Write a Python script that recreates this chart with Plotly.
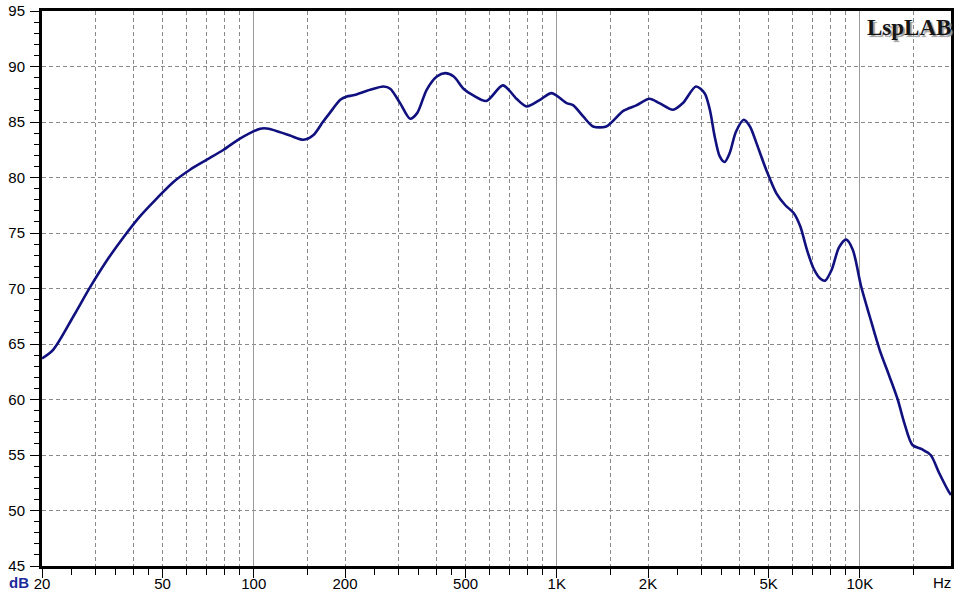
import plotly.graph_objects as go
import math

# ---- data ----
freq_hz = [20, 21.8, 25.4, 28.8, 32.7, 37.1, 42.1, 47.8, 54.3, 61.6, 70, 79.5, 90,
           105, 112, 131, 146, 157, 169, 178, 193, 203, 213, 242, 268, 282, 304,
           328, 346, 372, 402, 428, 457, 492, 530, 586, 664, 736, 795, 880, 962,
           1078, 1134, 1222, 1317, 1456, 1658, 1830, 2023, 2180, 2420, 2606, 2880,
           3075, 3200, 3320, 3450, 3580, 3720, 3900, 4140, 4340, 4560, 4910, 5300,
           5680, 6050, 6360, 6690, 7040, 7400, 7680, 8080, 8540, 9020, 9480, 10100,
           10780, 11620, 12520, 13340, 14020, 14920, 16080, 17140, 18260, 19660, 20000]
spl_db = [63.7, 64.5, 67.5, 70.1, 72.5, 74.6, 76.5, 78.1, 79.6, 80.7, 81.6, 82.5, 83.5,
          84.4, 84.4, 83.8, 83.4, 83.8, 85.0, 85.8, 87.0, 87.3, 87.4, 87.9, 88.2, 88.0, 86.7,
          85.3, 85.8, 87.9, 89.1, 89.4, 89.1, 88.0, 87.4, 86.9, 88.3, 87.1, 86.4, 87.0, 87.6,
          86.7, 86.5, 85.5, 84.6, 84.6, 86.0, 86.5, 87.1, 86.7, 86.1, 86.7, 88.2,
          87.6, 86.1, 83.7, 81.9, 81.4, 82.2, 84.1, 85.2, 84.6, 83.1, 80.7, 78.6,
          77.5, 76.8, 75.6, 73.5, 71.8, 70.9, 70.7, 71.7, 73.7, 74.4, 73.5, 70.2,
          67.5, 64.5, 62.1, 60.0, 57.9, 55.9, 55.5, 55.0, 53.4, 51.7, 51.4]

x_label_vals = [20, 50, 100, 200, 500, 1000, 2000, 5000, 10000]
x_label_text = ["20", "50", "100", "200", "500", "1K", "2K", "5K", "10K"]
x_minor_ticks = [25, 30, 35, 40, 45, 60, 70, 80, 90, 150, 250, 300, 350, 400, 450,
                 600, 700, 800, 900, 1500, 2500, 3000, 3500, 4000, 4500,
                 6000, 7000, 8000, 9000, 15000]
x_dashed_grid = [30, 40, 50, 60, 70, 80, 90, 150, 200, 300, 400, 500, 600, 700, 800,
                 900, 1500, 2000, 3000, 4000, 5000, 6000, 7000, 8000, 9000, 15000]
x_solid_grid = [100, 1000, 10000]
y_ticks = [45, 50, 55, 60, 65, 70, 75, 80, 85, 90, 95]

xr = [math.log10(20), math.log10(20000)]
FONT = "Liberation Sans, Arial, sans-serif"
SERIF = "Liberation Serif, Times New Roman, serif"
GRID = "#8a8a8a"

fig = go.Figure()
fig.add_trace(go.Scatter(x=[], y=[], xaxis="x2", yaxis="y", showlegend=False, hoverinfo="skip"))
fig.add_trace(go.Scatter(x=[], y=[], xaxis="x3", yaxis="y", showlegend=False, hoverinfo="skip"))
fig.add_trace(go.Scatter(x=freq_hz, y=spl_db, mode="lines",
                         line=dict(color="#10107f", width=2.6, shape="spline", smoothing=0.8),
                         showlegend=False))

fig.update_layout(
    width=957, height=596,
    margin=dict(l=42, r=6, t=11, b=30),
    paper_bgcolor="white", plot_bgcolor="white",
    font=dict(family=FONT, size=15, color="black"),
    xaxis=dict(type="log", range=xr, tickmode="array", tickvals=x_label_vals,
               ticktext=x_label_text, ticks="outside", ticklen=9, tickwidth=1,
               tickcolor="black", showgrid=False, showline=True, linecolor="black",
               linewidth=3, mirror=True, zeroline=False, automargin=False,
               ticklabelstandoff=-7,
               tickfont=dict(size=15, family=FONT, color="black"),
               minor=dict(tickmode="array", tickvals=x_minor_ticks, ticks="outside",
                          ticklen=6, tickwidth=1, tickcolor="black", showgrid=False)),
    xaxis2=dict(type="log", range=xr, overlaying="x", tickmode="array",
                tickvals=x_dashed_grid, showticklabels=False, ticks="",
                showgrid=True, gridcolor=GRID, gridwidth=1, griddash="4px,3px",
                showline=False, zeroline=False, automargin=False),
    xaxis3=dict(type="log", range=xr, overlaying="x", tickmode="array",
                tickvals=x_solid_grid, showticklabels=False, ticks="",
                showgrid=True, gridcolor="#9a9a9a", gridwidth=1, griddash="solid",
                showline=False, zeroline=False, automargin=False),
    yaxis=dict(range=[45, 95], tickmode="array", tickvals=y_ticks, ticks="outside",
               ticklen=9, tickwidth=1, tickcolor="black", showgrid=True,
               gridcolor=GRID, gridwidth=1, griddash="4px,3px", showline=True,
               linecolor="black", linewidth=3, mirror=True, zeroline=False,
               automargin=False, ticklabelstandoff=2,
               tickfont=dict(size=15, family=FONT, color="black"),
               minor=dict(dtick=1, ticks="outside", ticklen=5, tickwidth=1,
                          tickcolor="black", showgrid=False)),
)

fig.add_annotation(xref="paper", yref="paper", x=-0.0253, y=-0.0306, text="<b>dB</b>",
                   xanchor="center", yanchor="middle",
                   showarrow=False, font=dict(family=FONT, size=15, color="#1c2a9c"))
fig.add_annotation(xref="paper", yref="paper", x=0.990, y=-0.0306, text="Hz",
                   xanchor="center", yanchor="middle",
                   showarrow=False, font=dict(family=FONT, size=15, color="black"))
fig.add_annotation(xref="paper", yref="paper", x=0.9535, y=0.9695, text="<b>LspLAB</b>",
                   xanchor="center", yanchor="middle", showarrow=False,
                   font=dict(family=SERIF, size=23, color="#151515",
                             shadow="2px 2px 1px #9a9a9a"))

fig.write_html("out.html", config={"displayModeBar": False},
               post_script="document.body.style.margin='0px';")
